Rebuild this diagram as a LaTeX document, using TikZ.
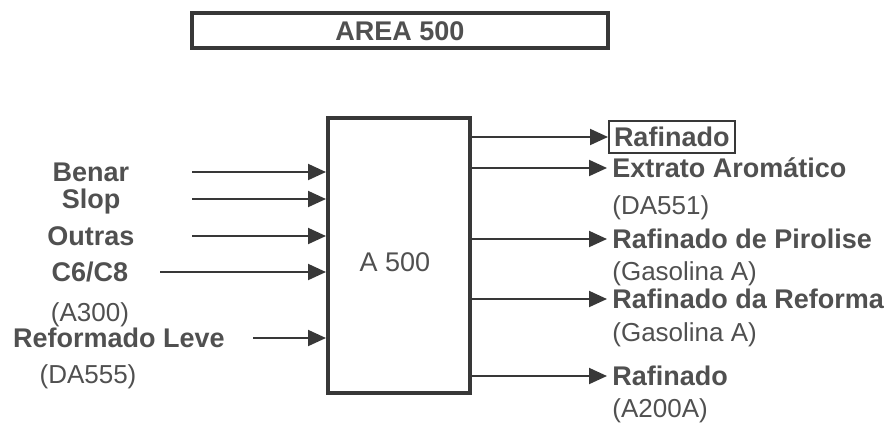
\documentclass[tikz,border=0pt]{standalone}
\usepackage{fontspec}
\setmainfont{Liberation Sans}
\usetikzlibrary{arrows.meta,positioning}
\definecolor{ArInk}{HTML}{383838}
\definecolor{ArText}{HTML}{505050}
\tikzset{
  arname/.style={font=\fontsize{13.5}{16}\selectfont\bfseries,text=ArText,
    inner sep=0pt,text height=9.7pt,text depth=0pt},
  arnote/.style={font=\fontsize{13}{16}\selectfont,text=ArText,
    inner sep=0pt,text height=9.3pt,text depth=0pt},
  arunit/.style={draw=ArInk,line width=2pt,minimum width=71pt,minimum height=137.5pt},
  arflow/.style={-{Triangle[length=9pt,width=8pt]},line width=1pt,draw=ArInk}
}

\begin{document}
\begin{tikzpicture}[x=0.5pt,y=-0.5pt]
    \useasboundingbox (0,0) rectangle (890,424);
    % title
    \node[arname,draw=ArInk,line width=1.8pt,minimum width=208pt,minimum height=17.5pt] (title) at (400,30.5) {AREA 500};
    % unit
    \node[arunit] (unit) at (399,255.5) {};
    \node[arnote,font=\fontsize{13.5}{16}\selectfont] (unitname) at (395,262) {A 500};
    % feeds
    \node[arname] (benar) at (91,172) {Benar};
    \node[arname] (slop) at (91,199) {Slop};
    \node[arname] (outras) at (91,236) {Outras};
    \node[arname] (c6c8) at (90,272) {C6/C8};
    \node[arnote] (a300) at (90,312) {(A300)};
    \node[arname] (leve) at (119,338) {Reformado Leve};
    \node[arnote] (da555) at (88,374) {(DA555)};
    \coordinate (benarin) at (192,172);
    \coordinate (slopin) at (192,199);
    \coordinate (outrasin) at (192,236);
    \coordinate (c6c8in) at (160,272);
    \coordinate (levein) at (253,338);
    \foreach \feed in {benarin,slopin,outrasin,c6c8in,levein}
      \draw[arflow] (\feed) -- (\feed -| unit.west);
    % products
    \node[arname,anchor=west,draw=ArInk,line width=1pt,inner xsep=2.5pt,inner ysep=3pt] (raf) at (608,137) {Rafinado};
    \node[arname,anchor=west] (extrato) at (612,168) {Extrato Aromático};
    \node[arnote,anchor=west] (da551) at (612,205) {(DA551)};
    \node[arname,anchor=west] (pirolise) at (612,239) {Rafinado de Pirolise};
    \node[arnote,anchor=west] (gasa) at (612,271) {(Gasolina A)};
    \node[arname,anchor=west] (reforma) at (612,299) {Rafinado da Reforma};
    \node[arnote,anchor=west] (gasb) at (612,332) {(Gasolina A)};
    \node[arname,anchor=west] (rafb) at (612,376) {Rafinado};
    \node[arnote,anchor=west] (a200a) at (612,408) {(A200A)};
    \draw[arflow] (unit.east |- raf) -- (raf.west);
    \foreach \prod in {extrato,pirolise,reforma,rafb}
      \draw[arflow,shorten >=2.5pt] (unit.east |- \prod) -- (\prod.west);
\end{tikzpicture}
\end{document}
